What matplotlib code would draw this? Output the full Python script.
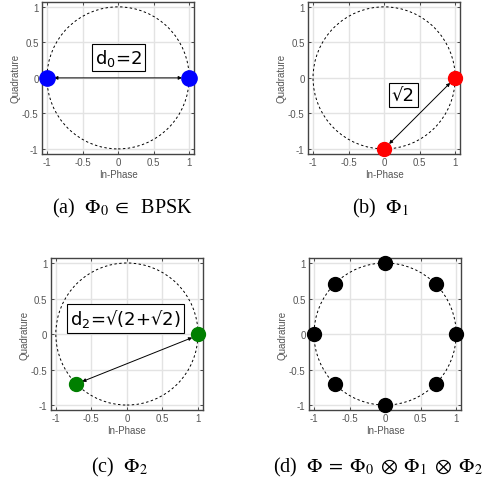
import numpy as np
import matplotlib.pyplot as plt
from matplotlib.patches import Circle

plt.rcParams['font.family'] = ['Liberation Sans', 'DejaVu Sans']
plt.rcParams['mathtext.fontset'] = 'stix'

# constellation points
a_i = [-1, 1]
a_q = [0, 0]
b_i = [1, 0]
b_q = [0, -1]
c_i = [1, -0.71]
c_q = [0, -0.71]
d_i = [1, 0.71, 0, -0.71, -1, -0.71, 0, 0.71]
d_q = [0, 0.71, 1, 0.71, 0, -0.71, -1, -0.71]

ticks = [-1, -0.5, 0, 0.5, 1]
tick_labels = ['-1', '-0.5', '0', '0.5', '1']

captions = [r'(a)  $\Phi_0\;\in\;$ BPSK', r'(b)  $\Phi_1$',
            r'(c)  $\Phi_2$',
            r'(d)  $\Phi\;=\;\Phi_0\;\otimes\;\Phi_1\;\otimes\;\Phi_2$']

fig = plt.figure(figsize=(4.89, 4.81), dpi=100)

grey = '#555555'


def make_ax(rect):
    ax = fig.add_axes(rect)
    ax.set_xlim(-1.07, 1.07)
    ax.set_ylim(-1.07, 1.07)
    ax.set_xticks(ticks)
    ax.set_yticks(ticks)
    ax.set_xticklabels(tick_labels)
    ax.set_yticklabels(tick_labels)
    ax.tick_params(direction='in', top=True, right=True, length=2.5, width=0.6,
                   labelsize=7, labelcolor=grey, color='#333333', pad=2.5)
    ax.grid(True, color='#e3e3e3', lw=1.0)
    ax.set_axisbelow(True)
    for s in ax.spines.values():
        s.set_color('#444444')
        s.set_linewidth(1.0)
    ax.set_xlabel('In-Phase', fontsize=7, color=grey, labelpad=1)
    ax.set_ylabel('Quadrature', fontsize=7, color=grey, labelpad=1)
    ax.add_patch(Circle((0, 0), 1, fill=False, ls=(0, (2.5, 2.5)), lw=0.7, color='black'))
    return ax


def arrow(ax, p0, p1):
    ax.annotate('', xy=p1, xytext=p0,
                arrowprops=dict(arrowstyle='<|-|>', color='black', lw=0.7,
                                mutation_scale=5, shrinkA=0, shrinkB=0))


def label(ax, x, y, s):
    ax.text(x, y, s, fontsize=13, ha='center', va='center', family=['DejaVu Sans'],
            math_fontfamily='dejavusans',
            bbox=dict(boxstyle='square,pad=0.18', fc='white', ec='black', lw=0.8))


# (a)
ax = make_ax([0.0859, 0.678, 0.311, 0.316])
arrow(ax, (-0.9, 0), (0.9, 0))
label(ax, 0.01, 0.29, r'd$_0$=2')
ax.plot(a_i, a_q, 'o', color='#0000ff', ms=11, clip_on=False, zorder=5)

# (b)
ax = make_ax([0.630, 0.678, 0.311, 0.316])
arrow(ax, (0.93, -0.07), (0.07, -0.93))
label(ax, 0.27, -0.24, '√2')
ax.plot(b_i, b_q, 'o', color='#ff0000', ms=10, clip_on=False, zorder=5)

# (c)
ax = make_ax([0.104, 0.1455, 0.311, 0.316])
arrow(ax, (0.92, -0.05), (-0.63, -0.67))
label(ax, -0.02, 0.22, r'd$_2$=√(2+√2)')
ax.plot(c_i, c_q, 'o', color='#007f00', ms=10, clip_on=False, zorder=5)

# (d)
ax = make_ax([0.632, 0.1455, 0.311, 0.316])
ax.plot(d_i, d_q, 'o', color='black', ms=10, clip_on=False, zorder=5)

cap_xy = [(122, 208), (380, 208), (119, 467), (378, 467)]
for (px, py), cap in zip(cap_xy, captions):
    fig.text(px / 489, 1 - py / 481, cap, ha='center', va='center',
             fontsize=14.5, family=['Liberation Serif'])

fig.savefig('out.png', dpi=100)
